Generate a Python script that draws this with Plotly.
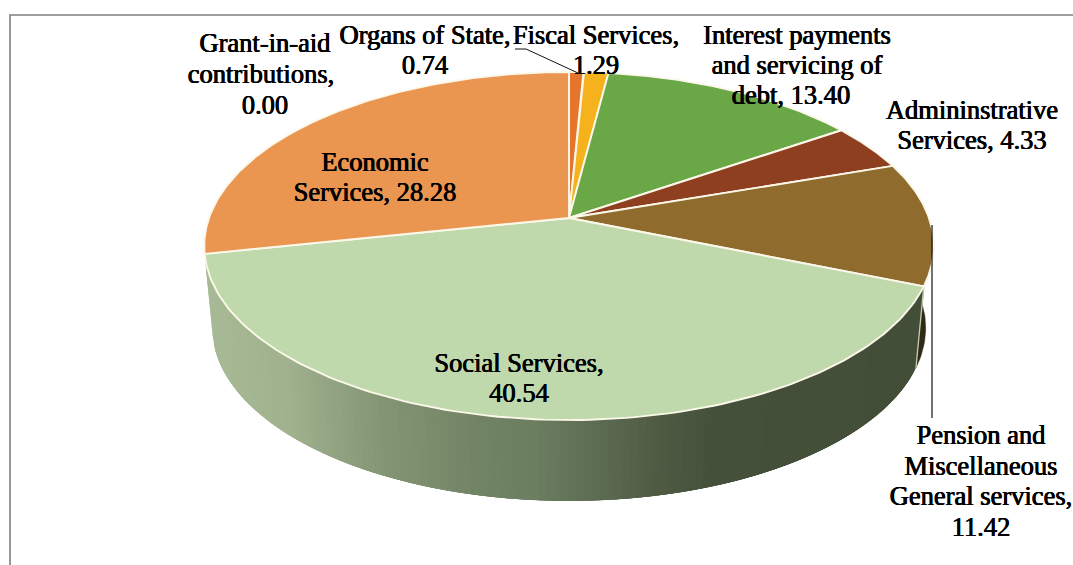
import numpy as np
import plotly.graph_objects as go

# Budget shares, clockwise from twelve o'clock
categories = [
    "Grant-in-aid contributions",
    "Organs of State",
    "Fiscal Services",
    "Interest payments and servicing of debt",
    "Admininstrative Services",
    "Pension and Miscellaneous General services",
    "Social Services",
    "Economic Services",
]
values = [0.00, 0.74, 1.29, 13.40, 4.33, 11.42, 40.54, 28.28]
top_colors = ["#e3762c", "#e3762c", "#f5b21c", "#6aa746", "#8e3f20", "#8f6c2e", "#c0d9ac", "#ea9550"]

# Wrapped label text for each category; the value is appended to the last line
label_lines = [
    ["Grant-in-aid", "contributions,", ""],
    ["Organs of State,", ""],
    ["Fiscal Services,", ""],
    ["Interest payments", "and servicing of", "debt, "],
    ["Admininstrative", "Services, "],
    ["Pension and", "Miscellaneous", "General services,", ""],
    ["Social Services,", ""],
    ["Economic", "Services, "],
]
# Centre of each wrapped label line on the page
label_xy = [
    [(265, 45), (261, 76), (265, 107)],
    [(425, 37), (425, 67)],
    [(596, 37), (596, 67)],
    [(797, 37), (797, 67), (791, 97)],
    [(972, 112), (972, 142)],
    [(981, 437), (981, 468), (981, 498), (981, 529)],
    [(519, 365), (519, 395)],
    [(375, 164), (375, 194)],
]

# Perspective disc: centre, half-width, half-depth and foreshortening
CX, CY_TOP, CY_BOTTOM = 569.0, 218.0, 300.0
A_TOP, A_BOTTOM = 360.0, 352.0
B_TOP, B_BOTTOM = 169.5, 168.6
K = 0.161

# Shading of the rim from left to right
RIM_X = [205, 300, 400, 500, 560, 620, 680, 740, 930]
RIM_RGB = [(168, 186, 150), (160, 178, 142), (132, 150, 116), (114, 132, 102),
           (108, 126, 96), (94, 110, 84), (80, 92, 68), (68, 80, 58), (66, 78, 56)]


def project(theta, bottom=False):
    a, b, cy = (A_BOTTOM, B_BOTTOM, CY_BOTTOM) if bottom else (A_TOP, B_TOP, CY_TOP)
    w = 1 + K * np.cos(theta)
    return CX + a * np.sin(theta) / w, cy - b * np.cos(theta) / w


def rim_color(x):
    r, g, b = (np.interp(x, RIM_X, [c[i] for c in RIM_RGB]) for i in range(3))
    return f"rgb({r:.0f},{g:.0f},{b:.0f})"


fig = go.Figure()


def polygon(xs, ys, fill, line, width):
    fig.add_trace(go.Scatter(x=xs, y=ys, mode="lines", fill="toself", fillcolor=fill,
                             line=dict(color=line, width=width), hoverinfo="skip"))


edges = np.cumsum([0.0] + values) / sum(values) * 2 * np.pi
social_start, social_end = edges[6], edges[7]
pension_start, pension_end = edges[5], edges[6]

# Rim of the pension slice, running behind the top face
rim = np.linspace(np.radians(70), pension_end, 40)
tx, ty = project(rim)
bx, by = project(rim, bottom=True)
polygon(np.r_[tx, bx[::-1]].tolist(), np.r_[ty, by[::-1]].tolist(), "#2f2a14", "#2f2a14", 0.5)

# Rim of the social services slice, shaded strip by strip from the far end;
# each strip reaches well under its neighbour so no seams show through
strip_edges = np.linspace(social_start, social_end, 141)
for k in range(len(strip_edges) - 2, -1, -1):
    arc = np.linspace(strip_edges[k], strip_edges[min(k + 4, len(strip_edges) - 1)], 6)
    tx, ty = project(arc)
    bx, by = project(arc, bottom=True)
    c = rim_color(project(strip_edges[k])[0])
    polygon(np.r_[tx, bx[::-1]].tolist(), np.r_[ty, by[::-1]].tolist(), c, c, 0)

# Pale seam between the two rim colours
sx0, sy0 = project(social_start)
sx1, sy1 = project(social_start, bottom=True)
fig.add_trace(go.Scatter(x=[sx0, sx1], y=[sy0, sy1], mode="lines",
                         line=dict(color="#c4ccb4", width=1.3), hoverinfo="skip"))

# Top face, one wedge per category
for i, v in enumerate(values):
    if v <= 0:
        continue
    arc = np.linspace(edges[i], edges[i + 1], 120)
    x, y = project(arc)
    polygon([CX, *x, CX], [CY_TOP, *y, CY_TOP], top_colors[i], "#fbf8ea", 1.9)

# Page frame and leader lines
fig.add_trace(go.Scatter(x=[10, 10, 1073], y=[565, 15, 15], mode="lines",
                         line=dict(color="#7f7f7f", width=1.6), hoverinfo="skip"))
fig.add_trace(go.Scatter(x=[515, 526, 578], y=[49, 49, 73], mode="lines",
                         line=dict(color="#111111", width=1), hoverinfo="skip"))
fig.add_trace(go.Scatter(x=[932, 932], y=[225, 418], mode="lines",
                         line=dict(color="#111111", width=1.2), hoverinfo="skip"))

# Labels, one text point per wrapped line
tx_list, ty_list, text_list = [], [], []
for lines, xy, v in zip(label_lines, label_xy, values):
    for j, (line, (px, py)) in enumerate(zip(lines, xy)):
        text_list.append(line + f"{v:.2f}" if j == len(lines) - 1 else line)
        tx_list.append(px)
        ty_list.append(py)
fig.add_trace(go.Scatter(x=tx_list, y=ty_list, mode="text", text=text_list,
                         textposition="middle center", hoverinfo="skip",
                         textfont=dict(family="Liberation Serif", size=26.5, color="#000000",
                                       shadow="0.4px 0 0.5px #000000, -0.4px 0 0.5px #000000")))

fig.update_layout(
    width=1073, height=565, margin=dict(l=0, r=0, t=0, b=0),
    paper_bgcolor="white", plot_bgcolor="white", showlegend=False,
    xaxis=dict(range=[0, 1073], visible=False, fixedrange=True),
    yaxis=dict(range=[565, 0], visible=False, fixedrange=True),
)
fig.write_html("out.html", config={"displayModeBar": False})
